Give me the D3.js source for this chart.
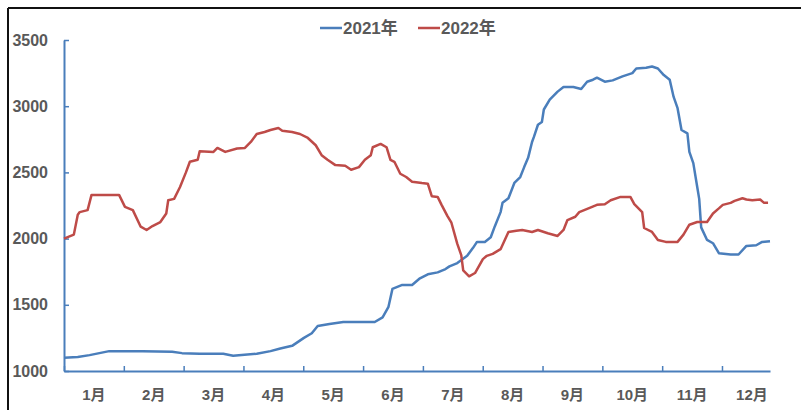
<!DOCTYPE html>
<html>
<head>
<meta charset="utf-8">
<script src="https://cdn.jsdelivr.net/npm/d3@7"></script>
<style>
	body { margin: 0; background: #fff; }
	text { font-family: "Liberation Sans", Arial, "Noto Sans CJK SC", sans-serif; font-weight: bold; fill: #595959; }
</style>
</head>
<body>
<div id="chart"></div>
<script>

// day of year (0 = start of axis) and price
let days2021 = [0, 7, 13, 18, 23, 40, 55, 60, 69, 81, 86, 98, 105, 110, 116, 122, 126, 129, 135, 142, 156, 158, 162, 165, 167, 172, 177, 181, 185, 190, 194, 196, 200, 205, 208, 210, 214, 217, 219, 222, 223, 226, 229, 232, 234, 236, 238, 239, 241, 243, 244, 247, 251, 254, 259, 263, 266, 269, 271, 275, 279, 284, 289, 291, 296, 299, 302, 305, 308, 310, 312, 314, 317, 318, 320, 322, 323, 324, 327, 330, 333, 339, 343, 347, 352, 355, 359];
let vals2021 = [1100, 1105, 1120, 1135, 1150, 1150, 1145, 1135, 1130, 1130, 1115, 1130, 1150, 1170, 1190, 1250, 1285, 1340, 1355, 1370, 1370, 1370, 1405, 1485, 1620, 1650, 1650, 1700, 1730, 1745, 1770, 1790, 1815, 1870, 1930, 1975, 1975, 2010, 2090, 2200, 2270, 2305, 2420, 2465, 2540, 2610, 2730, 2770, 2860, 2880, 2975, 3050, 3110, 3145, 3145, 3130, 3185, 3200, 3215, 3185, 3195, 3225, 3250, 3285, 3290, 3300, 3285, 3235, 3200, 3070, 2985, 2820, 2795, 2655, 2570, 2390, 2300, 2085, 1990, 1965, 1890, 1880, 1880, 1945, 1950, 1975, 1980];

let days2022 = [0, 5, 7, 8, 12, 14, 28, 31, 35, 39, 42, 45, 49, 52, 53, 56, 59, 62, 64, 68, 69, 76, 78, 82, 88, 92, 95, 98, 102, 105, 109, 111, 116, 120, 124, 128, 131, 134, 138, 143, 146, 150, 153, 156, 157, 161, 164, 166, 168, 171, 174, 177, 182, 185, 187, 190, 192, 195, 197, 200, 202, 203, 206, 209, 213, 215, 218, 222, 226, 230, 233, 238, 241, 246, 251, 254, 256, 260, 262, 267, 271, 275, 278, 283, 288, 290, 294, 295, 299, 302, 306, 312, 315, 318, 322, 327, 330, 333, 335, 339, 341, 345, 347, 350, 354, 356, 358];
let vals2022 = [2000, 2030, 2180, 2200, 2215, 2330, 2330, 2240, 2215, 2090, 2065, 2095, 2125, 2190, 2290, 2300, 2390, 2500, 2580, 2595, 2660, 2655, 2685, 2655, 2680, 2685, 2730, 2790, 2805, 2820, 2835, 2815, 2805, 2790, 2760, 2705, 2630, 2595, 2555, 2550, 2520, 2540, 2595, 2630, 2690, 2715, 2690, 2595, 2580, 2490, 2465, 2430, 2420, 2415, 2320, 2315, 2255, 2170, 2120, 1960, 1875, 1760, 1715, 1740, 1845, 1870, 1885, 1920, 2050, 2060, 2065, 2050, 2065, 2040, 2020, 2065, 2140, 2165, 2200, 2230, 2255, 2260, 2290, 2315, 2315, 2260, 2200, 2080, 2050, 1990, 1975, 1975, 2030, 2105, 2125, 2125, 2190, 2228, 2255, 2270, 2285, 2305, 2295, 2290, 2295, 2270, 2270];

let seriesNames = ["2021年", "2022年"];
let seriesColors = ["#4a7ebb", "#be4b48"];
let monthLabels = ["1月", "2月", "3月", "4月", "5月", "6月", "7月", "8月", "9月", "10月", "11月", "12月"];
let yTicks = [1000, 1500, 2000, 2500, 3000, 3500];

let width = 801, height = 410;
let axisColor = "#4a7ebb";

let svg = d3.select("#chart").append("svg")
	.attr("width", width)
	.attr("height", height);

// frame (only top and left edges show)
svg.append("line").attr("x1", 8).attr("x2", width).attr("y1", 8).attr("y2", 8)
	.attr("stroke", "#111").attr("stroke-width", 2);
svg.append("line").attr("x1", 8).attr("x2", 8).attr("y1", 8).attr("y2", height)
	.attr("stroke", "#111").attr("stroke-width", 2);

// scales
let x = d3.scaleLinear().domain([0, 359]).range([64, 770]);
let y = d3.scaleLinear().domain([1000, 3500]).range([371, 40]);

let monthLen = 365 / 12;
let monthStarts = monthLabels.map((m, i) => i * monthLen);

// y axis
let yAxis = d3.axisLeft(y)
	.tickValues(yTicks)
	.tickSizeInner(-5)
	.tickSizeOuter(0)
	.tickPadding(16)
	.tickFormat(d3.format("d"));

let gy = svg.append("g")
	.attr("transform", "translate(" + x(0) + ",0)")
	.call(yAxis);
gy.select(".domain").attr("stroke", axisColor).attr("stroke-width", 2);
gy.selectAll(".tick line").attr("stroke", axisColor).attr("stroke-width", 1.5);
gy.selectAll(".tick text").attr("font-size", 16).attr("fill", "#595959");

// x axis
let xAxis = d3.axisBottom(x)
	.tickValues(monthStarts)
	.tickSizeInner(-5)
	.tickSizeOuter(0)
	.tickFormat("");

let gx = svg.append("g")
	.attr("transform", "translate(0," + y(1000) + ")")
	.call(xAxis);
gx.select(".domain").attr("stroke", axisColor).attr("stroke-width", 2);
gx.selectAll(".tick line").attr("stroke", axisColor).attr("stroke-width", 1.5);

svg.selectAll(".month-label")
	.data(monthLabels)
	.enter()
	.append("text")
	.attr("class", "month-label")
	.attr("x", (d, i) => x(i * monthLen + monthLen / 2))
	.attr("y", 400)
	.attr("text-anchor", "middle")
	.attr("font-size", 15)
	.text(d => d);

// lines
let line = d3.line()
	.x(d => x(d[0]))
	.y(d => y(d[1]));

let series = [
	d3.zip(days2021, vals2021),
	d3.zip(days2022, vals2022)
];

svg.selectAll(".series")
	.data(series)
	.enter()
	.append("path")
	.attr("class", "series")
	.attr("d", line)
	.attr("fill", "none")
	.attr("stroke", (d, i) => seriesColors[i])
	.attr("stroke-width", 2.5)
	.attr("stroke-linejoin", "round");

// legend
let legendX = [320, 418];
let legend = svg.selectAll(".legend")
	.data(seriesNames)
	.enter()
	.append("g")
	.attr("class", "legend")
	.attr("transform", (d, i) => "translate(" + legendX[i] + ",28)");

legend.append("line")
	.attr("x1", 0).attr("x2", 22)
	.attr("stroke", (d, i) => seriesColors[i])
	.attr("stroke-width", 2.5);

legend.append("text")
	.attr("x", 23)
	.attr("y", 6)
	.attr("font-size", 17)
	.text(d => d);

</script>
</body>
</html>
